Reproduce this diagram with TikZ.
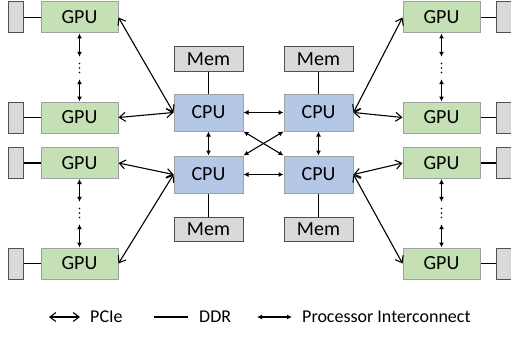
\documentclass[tikz,border=0pt]{standalone}
\usepackage{fontspec}
\setmainfont{Carlito}
\usetikzlibrary{arrows.meta,positioning}

\definecolor{gpufill}{HTML}{C5E0B4}
\definecolor{cpufill}{HTML}{B4C7E7}
\definecolor{memfill}{HTML}{D9D9D9}
\definecolor{boxline}{HTML}{A0A0A0}
\definecolor{memline}{HTML}{505050}

\tikzset{
	box/.style={draw=boxline, line width=1pt, inner sep=0pt, font=\fontsize{20}{24}\selectfont},
	gpu/.style={box, fill=gpufill, minimum width=77pt, minimum height=31pt},
	cpu/.style={box, fill=cpufill, minimum width=69pt, minimum height=37pt},
	mem/.style={box, draw=memline, fill=memfill, minimum width=69pt, minimum height=24pt},
	port/.style={box, draw=memline, fill=memfill, minimum width=15pt, minimum height=31pt},
	dots/.style={inner sep=0pt, minimum height=22pt, minimum width=4pt},
	pcie/.style={{Straight Barb[length=6pt,width=9pt]}-{Straight Barb[length=6pt,width=9pt]}, line width=1.1pt},
	ddr/.style={line width=1.1pt},
	link/.style={{Latex[length=5pt,width=5pt]}-{Latex[length=5pt,width=5pt]}, line width=1.1pt},
	legend/.style={anchor=west, inner sep=0pt, font=\fontsize{18}{22}\selectfont}
}

\begin{document}
\begin{tikzpicture}[x=1pt, y=-1pt]
	\useasboundingbox (0,0) rectangle (511,337);

	\node[cpu] (c1) at (208.5,112.5) {CPU};
	\node[cpu] (c2) at (318.5,112.5) {CPU};
	\node[cpu] (c3) at (208.5,174.5) {CPU};
	\node[cpu] (c4) at (318.5,174.5) {CPU};
	\node[mem] (m1) at (208.5,59) {Mem};
	\node[mem] (m2) at (318.5,59) {Mem};
	\node[mem] (m3) at (208.5,229) {Mem};
	\node[mem] (m4) at (318.5,229) {Mem};

	\node[gpu] (l1) at (79.5,17.5) {GPU};
	\node[gpu] (l2) at (79.5,117.5) {GPU};
	\node[gpu] (l3) at (79.5,163) {GPU};
	\node[gpu] (l4) at (79.5,263.5) {GPU};
	\node[gpu] (r1) at (441.5,17.5) {GPU};
	\node[gpu] (r2) at (441.5,117.5) {GPU};
	\node[gpu] (r3) at (441.5,163) {GPU};
	\node[gpu] (r4) at (441.5,263.5) {GPU};

	\node[port] (pl1) at (15.5,17.5) {};
	\node[port] (pl2) at (15.5,117.5) {};
	\node[port] (pl3) at (15.5,163) {};
	\node[port] (pl4) at (15.5,263.5) {};
	\node[port] (pr1) at (503.5,17.5) {};
	\node[port] (pr2) at (503.5,117.5) {};
	\node[port] (pr3) at (503.5,163) {};
	\node[port] (pr4) at (503.5,263.5) {};

	\node[dots] (dl1) at (79.5,68) {};
	\node[dots] (dl2) at (79.5,213) {};
	\node[dots] (dr1) at (441.5,68) {};
	\node[dots] (dr2) at (441.5,213) {};
	\foreach \d in {dl1,dl2,dr1,dr2}
		\foreach \k in {-4.5,0,4.5}
			\fill ([yshift=\k pt]\d.center) circle (0.8pt);

	\foreach \i in {1,2,3,4} {
		\draw[ddr] (pl\i) -- (l\i);
		\draw[ddr] (r\i) -- (pr\i);
		\draw[ddr] (m\i) -- (c\i);
	}

	\draw[pcie] (l1.east) -- (c1.west);
	\draw[pcie] (l2.east) -- (c1.west);
	\draw[pcie] (l3.east) -- (c3.west);
	\draw[pcie] (l4.east) -- (c3.west);
	\draw[pcie] (c2.east) -- (r1.west);
	\draw[pcie] (c2.east) -- (r2.west);
	\draw[pcie] (c4.east) -- (r3.west);
	\draw[pcie] (c4.east) -- (r4.west);

	\draw[link] (l1) -- (dl1);
	\draw[link] (dl1) -- (l2);
	\draw[link] (l3) -- (dl2);
	\draw[link] (dl2) -- (l4);
	\draw[link] (r1) -- (dr1);
	\draw[link] (dr1) -- (r2);
	\draw[link] (r3) -- (dr2);
	\draw[link] (dr2) -- (r4);

	\draw[link] (c1) -- (c2);
	\draw[link] (c3) -- (c4);
	\draw[link] (c1) -- (c3);
	\draw[link] (c2) -- (c4);
	\draw[link] (c1.south east) -- (c4.north west);
	\draw[link] (c2.south west) -- (c3.north east);

	\coordinate (a1) at (49,317);
	\coordinate (a2) at (80,317);
	\coordinate (a3) at (154,317);
	\coordinate (a4) at (188,317);
	\coordinate (a5) at (257,317);
	\coordinate (a6) at (292,317);
	\draw[pcie] (a1) -- (a2);
	\draw[ddr] (a3) -- (a4);
	\draw[link] (a5) -- (a6);
	\node[legend] (t1) at (90,317) {PCIe};
	\node[legend] (t2) at (199,317) {DDR};
	\node[legend] (t3) at (302,317) {Processor Interconnect};
\end{tikzpicture}
\end{document}
